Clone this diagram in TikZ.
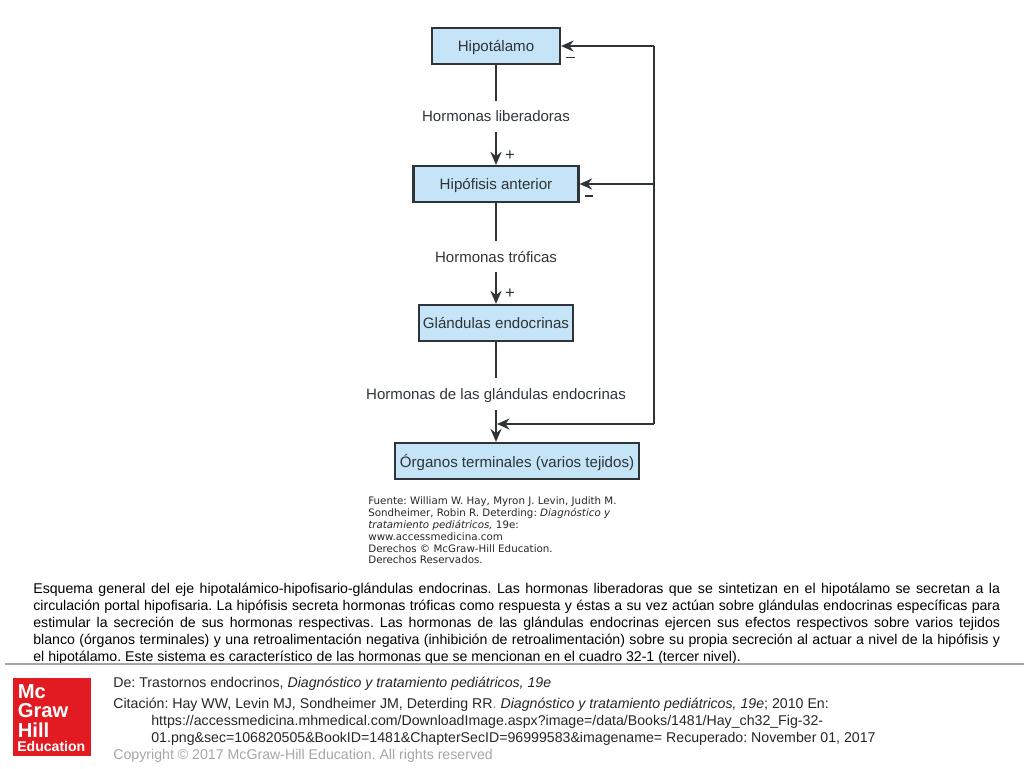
\documentclass[tikz,border=0pt]{standalone}
\usepackage{fontspec}
\setmainfont{Liberation Sans}
\newfontfamily\srcfont{DejaVu Sans}
\usepackage{xcolor}
\usetikzlibrary{arrows.meta, positioning}
\definecolor{boxblue}{HTML}{C5E4F7}
\definecolor{inkdark}{HTML}{2E3438}
\definecolor{mhred}{HTML}{E21B23}
\tikzset{
  stagenode/.style={rectangle,draw=inkdark,line width=1.25pt,fill=boxblue,inner sep=0pt,minimum height=0.72cm,text depth=0pt,font=\fontsize{8.6}{10}\selectfont,text=inkdark},
  hormnode/.style={inner sep=0pt,minimum height=0.62cm,text depth=0pt,font=\fontsize{8.55}{10}\selectfont,text=inkdark},
  signnode/.style={inner sep=0pt,font=\fontsize{9.5}{10}\selectfont,text=inkdark},
  plainedge/.style={line width=1.3pt,inkdark},
  stimedge/.style={plainedge,-{Stealth[length=2.6mm,width=2.2mm]}},
  feededge/.style={line width=1.1pt,inkdark,-{Stealth[length=2.5mm,width=2.2mm]}},
  footnode/.style={anchor=west,inner sep=0pt,font=\fontsize{8.06}{10}\selectfont\frenchspacing,text=black!85},
  logonode/.style={anchor=west,inner sep=0pt,text=white,font=\fontsize{11.5}{12}\selectfont\bfseries},
}

\begin{document}
\begin{tikzpicture}[x=0.02cm,y=-0.02cm]
  \useasboundingbox (0,0) rectangle (1024,768);
  % ---- axis boxes ----
  \node[stagenode,minimum width=2.56cm] (hipot) at (496,46) {Hipotálamo};
  \node[stagenode,minimum width=3.3cm] (hipof) at (496,184) {Hipófisis anterior};
  \node[stagenode,minimum width=3.08cm] (gland) at (496,323) {Glándulas endocrinas};
  \node[stagenode,minimum width=4.88cm] (organ) at (517,461) {Órganos terminales (varios tejidos)};
  % ---- hormone labels sit in the gaps of the vertical lines ----
  \node[hormnode] (liber) at (496,116.5) {Hormonas liberadoras};
  \node[hormnode] (trofi) at (496,256.5) {Hormonas tróficas};
  \node[hormnode] (horgl) at (496,394) {Hormonas de las glándulas endocrinas};
  \coordinate (orgtop) at (organ.north -| gland.south);
  \draw[plainedge] (hipot.south) -- (liber.north);
  \draw[stimedge] (liber.south) -- (hipof.north);
  \draw[plainedge] (hipof.south) -- (trofi.north);
  \draw[stimedge] (trofi.south) -- (gland.north);
  \draw[plainedge] (gland.south) -- (horgl.north);
  \draw[stimedge] (horgl.south) -- (orgtop);
  % ---- negative feedback rail ----
  \coordinate (railtop) at (654,46);
  \coordinate (railmid) at (654,184);
  \coordinate (railend) at (654,424);
  \coordinate (railtip) at (497,424);
  \draw[plainedge] (railtop) -- (railend);
  \draw[feededge] (railtop) -- (hipot.east);
  \draw[feededge] (railmid) -- (hipof.east);
  \draw[feededge] (railend) -- (railtip);
  \node[signnode] (pluslib) at (510,156) {+};
  \node[signnode] (plustro) at (510,294) {+};
  \node[signnode] (minhip) at (570.5,57.5) {\rule{4.6pt}{0.9pt}};
  \node[signnode] (minant) at (589,196) {\rule{4.6pt}{0.9pt}};
  % ---- source credit ----
  \node[anchor=north west,inner sep=0pt,align=left,text=black!85,font=\srcfont\fontsize{5.85}{6.75}\selectfont\frenchspacing] (credit) at (368,496.5)
    {Fuente: William W. Hay, Myron J. Levin, Judith M.\\
     Sondheimer, Robin R. Deterding: \textit{Diagnóstico y}\\
     \textit{tratamiento pediátricos,} 19e:\\
     www.accessmedicina.com\\
     Derechos © McGraw-Hill Education.\\
     Derechos Reservados.};
  % ---- caption ----
  \node[anchor=north west,inner sep=0pt,text width=19.34cm,align=justify,text=black,font=\fontsize{8.04}{9.72}\selectfont\frenchspacing] (caption) at (33,582.5)
    {Esquema general del eje hipotalámico-hipofisario-glándulas endocrinas. Las hormonas liberadoras que se sintetizan en el hipotálamo se secretan a la\linebreak
     circulación portal hipofisaria. La hipófisis secreta hormonas tróficas como respuesta y éstas a su vez actúan sobre glándulas endocrinas específicas para\linebreak
     estimular la secreción de sus hormonas respectivas. Las hormonas de las glándulas endocrinas ejercen sus efectos respectivos sobre varios tejidos\linebreak
     blanco (órganos terminales) y una retroalimentación negativa (inhibición de retroalimentación) sobre su propia secreción al actuar a nivel de la hipófisis y\linebreak
     el hipotálamo. Este sistema es característico de las hormonas que se mencionan en el cuadro 32-1 (tercer nivel).};
  \fill[black!35] (5,663) rectangle (1024,665);
  % ---- logo ----
  \node[anchor=north west,fill=mhred,minimum size=1.55cm,inner sep=0pt] (logo) at (13,678) {};
  \node[logonode] (logoa) at (17.5,692) {Mc};
  \node[logonode] (logob) at (17.5,711) {Graw};
  \node[logonode] (logoc) at (17.5,730) {Hill};
  \node[logonode,font=\fontsize{8}{9}\selectfont\bfseries] (logod) at (17,746) {Education};
  % ---- reference lines ----
  \node[footnode] (fromln) at (113,684) {De: Trastornos endocrinos, \textit{Diagnóstico y tratamiento pediátricos, 19e}};
  \node[footnode] (citeln) at (113,705) {Citación: Hay WW, Levin MJ, Sondheimer JM, Deterding RR\textcolor{black!50}{.} \textit{Diagnóstico y tratamiento pediátricos, 19e}; 2010 En:};
  \node[footnode] (urlaln) at (151,722) {https://accessmedicina.mhmedical.com/DownloadImage.aspx?image=/data/Books/1481/Hay\_ch32\_Fig-32-};
  \node[footnode] (urlbln) at (151,739) {01.png\&sec=106820505\&BookID=1481\&ChapterSecID=96999583\&imagename= Recuperado: November 01, 2017};
  \node[footnode,text=black!35] (copyln) at (113,756) {Copyright © 2017 McGraw-Hill Education. All rights reserved};
\end{tikzpicture}
\end{document}
